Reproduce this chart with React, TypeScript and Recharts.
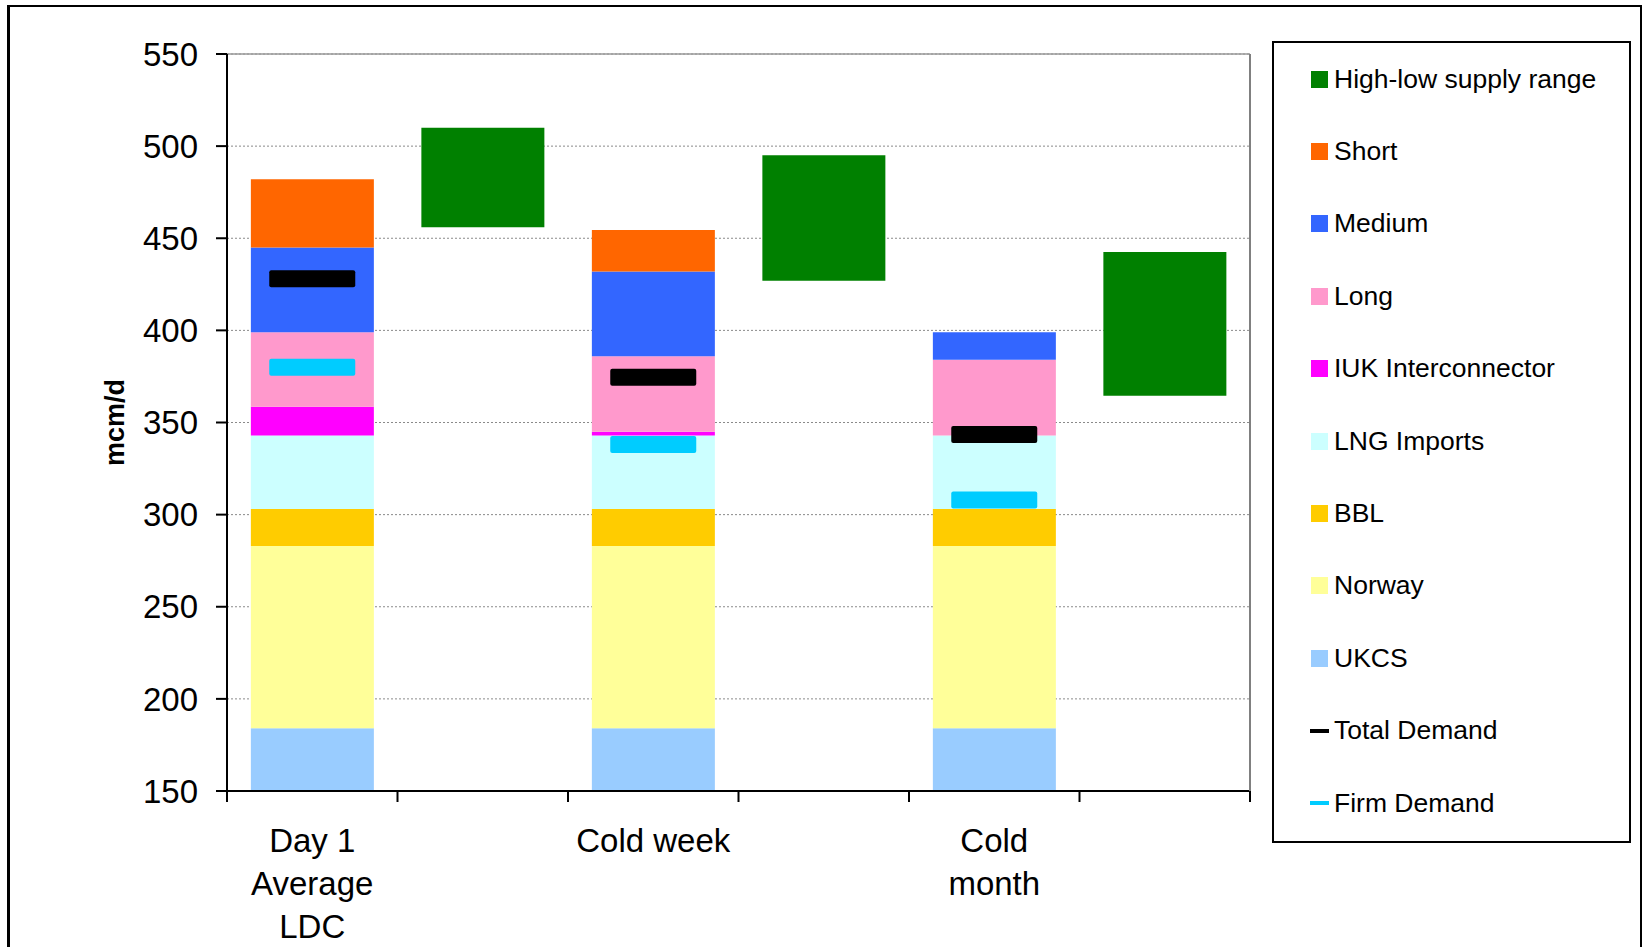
import React from "react";
import { ComposedChart, Bar, Line, XAxis, YAxis, CartesianGrid } from "recharts";

// supply stack per scenario (mcm/d); the empty slots hold the high-low range bars
const categories = ["Day 1\nAverage\nLDC", "", "Cold week", "", "Cold\nmonth", ""];
const ukcs = [184, null, 184, null, 184, null];
const norway = [99, null, 99, null, 99, null];
const bbl = [20, null, 20, null, 20, null];
const lng = [40, null, 40, null, 40, null];
const iuk = [15.5, null, 2, null, 0, null];
const longRange = [40.5, null, 41, null, 41, null];
const medium = [46, null, 46, null, 15, null];
const shortRange = [37, null, 22.5, null, 0, null];
const totalDemand = [428, null, 374.5, null, 343.5, null];
const firmDemand = [380, null, 338, null, 308, null];
const supplyLow = [null, 456, null, 427, null, 364.5];
const supplyHigh = [null, 510, null, 495, null, 442.5];
const yTicks = [150, 200, 250, 300, 350, 400, 450, 500, 550];

const FONT = '"Liberation Sans", Arial, sans-serif';

const legendItems = [
  { name: "High-low supply range", color: "#008000", kind: "box" },
  { name: "Short", color: "#FF6600", kind: "box" },
  { name: "Medium", color: "#3366FF", kind: "box" },
  { name: "Long", color: "#FF99CC", kind: "box" },
  { name: "IUK Interconnector", color: "#FF00FF", kind: "box" },
  { name: "LNG Imports", color: "#CCFFFF", kind: "box" },
  { name: "BBL", color: "#FFCC00", kind: "box" },
  { name: "Norway", color: "#FFFF99", kind: "box" },
  { name: "UKCS", color: "#99CCFF", kind: "box" },
  { name: "Total Demand", color: "#000000", kind: "line" },
  { name: "Firm Demand", color: "#00CCFF", kind: "line" },
];

const data = categories.map((name, i) => ({
  name,
  ukcs: ukcs[i] ?? 0,
  norway: norway[i] ?? 0,
  bbl: bbl[i] ?? 0,
  lng: lng[i] ?? 0,
  iuk: iuk[i] ?? 0,
  long: longRange[i] ?? 0,
  medium: medium[i] ?? 0,
  short: shortRange[i] ?? 0,
  supplyBase: supplyLow[i] ?? 0,
  supplyRange: supplyHigh[i] != null && supplyLow[i] != null ? supplyHigh[i] - supplyLow[i] : 0,
  totalDemand: totalDemand[i],
  firmDemand: firmDemand[i],
}));

// label in the middle of the slot, tick marks on the slot edges (Excel "between categories")
function CategoryTick({ x, y, payload, width, index, visibleTicksCount }: any) {
  const lines = String(payload.value).split("\n");
  const half = width && visibleTicksCount ? width / visibleTicksCount / 2 : 0;
  return (
    <g>
      {half > 0 && <line x1={x - half} x2={x - half} y1={y} y2={y + 11} stroke="#000" strokeWidth={2} />}
      {half > 0 && index === visibleTicksCount - 1 && (
        <line x1={x + half} x2={x + half} y1={y} y2={y + 11} stroke="#000" strokeWidth={2} />
      )}
      <text x={x} y={y} textAnchor="middle" fontSize={33} fill="#000" fontFamily={FONT}>
        {lines.map((l, i) => (
          <tspan key={i} x={x} dy={i === 0 ? 61 : 43}>
            {l}
          </tspan>
        ))}
      </text>
    </g>
  );
}

const demandMarker = (color: string) => (props: any) => {
  const { cx, cy, index, value } = props;
  if (cx == null || cy == null || value == null) return <g key={`d-${index}`} />;
  return <rect key={`d-${index}`} x={cx - 43} y={cy - 8.5} width={86} height={17} rx={2} fill={color} />;
};

function LegendBox() {
  return (
    <div
      style={{
        position: "absolute",
        left: 1272,
        top: 41,
        width: 359,
        height: 802,
        boxSizing: "border-box",
        border: "2px solid #000",
        background: "#fff",
        fontFamily: FONT,
        fontSize: 26.5,
        color: "#000",
      }}
    >
      {legendItems.map((it) => (
        <div key={it.name} style={{ display: "flex", alignItems: "center", height: 72.4 }}>
          <div style={{ width: 19, marginLeft: 36, marginRight: 5, display: "flex", justifyContent: "center" }}>
            {it.kind === "box" ? (
              <div style={{ width: 17, height: 17, background: it.color }} />
            ) : (
              <div style={{ width: 19, height: 4, background: it.color }} />
            )}
          </div>
          <span style={{ whiteSpace: "nowrap" }}>{it.name}</span>
        </div>
      ))}
    </div>
  );
}

export default function App() {
  return (
    <div style={{ position: "fixed", left: 0, top: 0, width: 1650, height: 947, overflow: "hidden", background: "#fff" }}>
      <div
        style={{
          position: "absolute",
          left: 7,
          top: 5,
          width: 1635,
          height: 1000,
          boxSizing: "border-box",
          borderTop: "2px solid #000",
          borderRight: "2px solid #000",
          borderLeft: "3px solid #000",
        }}
      />
      <div style={{ position: "absolute", left: 0, top: 0 }}>
        <ComposedChart
          width={1650}
          height={947}
          data={data}
          margin={{ top: 53, right: 399, bottom: 0, left: 0 }}
          barCategoryGap="14%"
          barGap={0}
        >
          <CartesianGrid vertical={false} stroke="#8a8a8a" strokeDasharray="2 2" />
          <XAxis
            dataKey="name"
            interval={0}
            axisLine={{ stroke: "#000", strokeWidth: 2 }}
            tickLine={false}
            tickSize={0}
            tickMargin={0}
            tick={<CategoryTick />}
            height={156}
          />
          <XAxis
            xAxisId="top"
            orientation="top"
            type="number"
            domain={[0, 6]}
            allowDataOverflow
            tick={false}
            tickLine={false}
            axisLine={{ stroke: "#999", strokeWidth: 1.5 }}
            height={1}
          />
          <YAxis
            domain={[150, 550]}
            ticks={yTicks}
            allowDataOverflow
            width={227}
            tickSize={11}
            tickMargin={18}
            tick={{ fontSize: 33, fill: "#000", fontFamily: FONT }}
            tickLine={{ stroke: "#000", strokeWidth: 2 }}
            axisLine={{ stroke: "#000", strokeWidth: 2 }}
            label={{
              content: ({ viewBox }: any) => (
                <text
                  x={viewBox.x + 115}
                  y={viewBox.y + viewBox.height / 2}
                  transform={`rotate(-90, ${viewBox.x + 115}, ${viewBox.y + viewBox.height / 2})`}
                  textAnchor="middle"
                  dominantBaseline="central"
                  fontSize={27}
                  fontWeight="bold"
                  fontFamily={FONT}
                  fill="#000"
                >
                  mcm/d
                </text>
              ),
            }}
          />
          <YAxis
            yAxisId="right"
            orientation="right"
            domain={[150, 550]}
            width={1}
            tick={false}
            tickLine={false}
            axisLine={{ stroke: "#808080", strokeWidth: 2 }}
          />
          <Bar dataKey="ukcs" stackId="s" fill="#99CCFF" isAnimationActive={false} />
          <Bar dataKey="norway" stackId="s" fill="#FFFF99" isAnimationActive={false} />
          <Bar dataKey="bbl" stackId="s" fill="#FFCC00" isAnimationActive={false} />
          <Bar dataKey="lng" stackId="s" fill="#CCFFFF" isAnimationActive={false} />
          <Bar dataKey="iuk" stackId="s" fill="#FF00FF" isAnimationActive={false} />
          <Bar dataKey="long" stackId="s" fill="#FF99CC" isAnimationActive={false} />
          <Bar dataKey="medium" stackId="s" fill="#3366FF" isAnimationActive={false} />
          <Bar dataKey="short" stackId="s" fill="#FF6600" isAnimationActive={false} />
          <Bar dataKey="supplyBase" stackId="s" fill="transparent" isAnimationActive={false} />
          <Bar dataKey="supplyRange" stackId="s" fill="#008000" isAnimationActive={false} />
          <Line
            dataKey="totalDemand"
            stroke="none"
            dot={demandMarker("#000000")}
            activeDot={false}
            isAnimationActive={false}
          />
          <Line
            dataKey="firmDemand"
            stroke="none"
            dot={demandMarker("#00CCFF")}
            activeDot={false}
            isAnimationActive={false}
          />
        </ComposedChart>
      </div>
      <LegendBox />
    </div>
  );
}
